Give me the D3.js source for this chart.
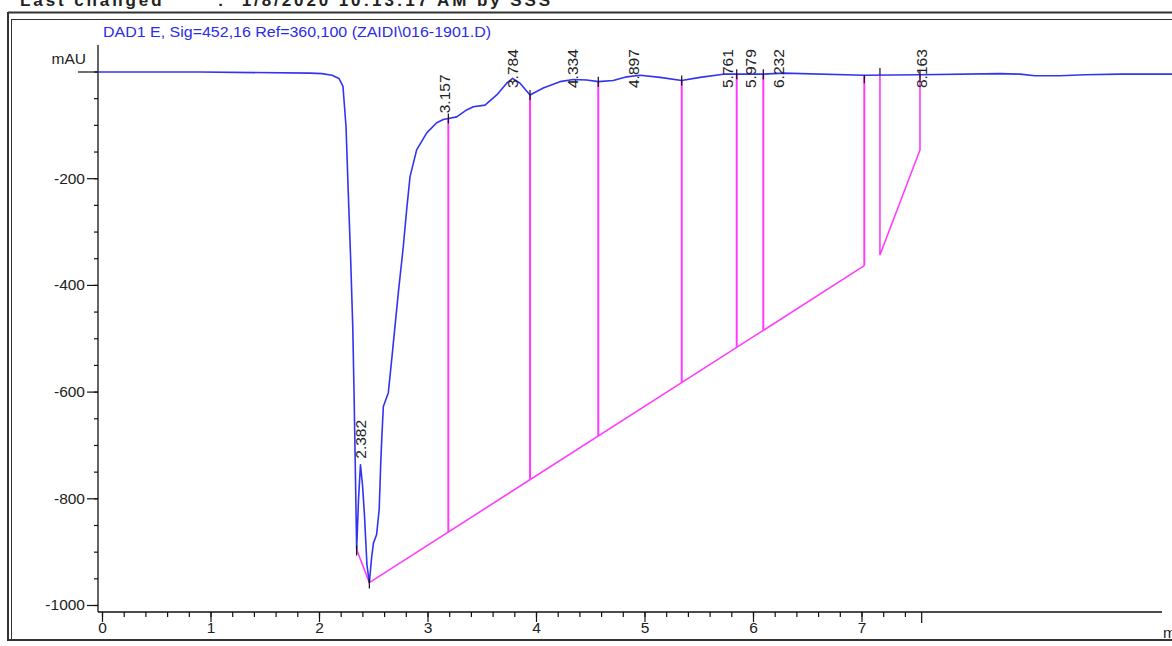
<!DOCTYPE html>
<html>
<head>
<meta charset="utf-8">
<script src="https://cdn.jsdelivr.net/npm/d3@7"></script>
<style>
  html, body { margin: 0; padding: 0; background: #fff; }
  svg { display: block; font-family: "Liberation Sans", Arial, sans-serif; }
</style>
</head>
<body>
<svg id="chart" width="1172" height="646"></svg>
<script>
// Detector trace: retention time (min) and absorbance (mAU)
const traceTime = [-0.037, 0.9, 1.917, 2.028, 2.12, 2.184, 2.221, 2.249, 2.27, 2.292, 2.311, 2.323, 2.335, 2.347,
  2.364, 2.382, 2.401, 2.419, 2.442, 2.464, 2.486, 2.502, 2.531, 2.555, 2.568, 2.578, 2.593, 2.639, 2.67, 2.731,
  2.777, 2.808, 2.839, 2.9, 2.993, 3.085, 3.146, 3.192, 3.269, 3.361, 3.422, 3.53, 3.638, 3.73, 3.784, 3.853,
  3.945, 4.067, 4.221, 4.344, 4.467, 4.574, 4.712, 4.836, 4.959, 5.143, 5.343, 5.512, 5.726, 6.095, 6.279, 7.023,
  7.539, 8.276, 8.461, 8.599, 8.829, 9.06, 9.382, 9.862];
const traceSignal = [-1, -1, -3, -4, -7, -13, -28, -103, -228, -353, -478, -602, -747, -896,
  -803, -737, -775, -831, -925, -958, -909, -884, -868, -820, -740, -690, -628, -602, -540, -415,
  -328, -259, -197, -147, -115, -96, -90, -88, -85, -72, -66, -63, -44, -22, -13, -22,
  -44, -31, -19, -15, -16, -19, -17, -10, -7, -11, -17, -11, -5, -5, -3, -7,
  -6, -4, -5, -8, -8, -6, -5, -5];

// Integrated peaks: label text and apex time
const peakLabels = ["2.382", "3.157", "3.784", "4.334", "4.897", "5.761", "5.979", "6.232", "8.163"];
const peakApexTime = [2.382, 3.157, 3.784, 4.334, 4.897, 5.761, 5.979, 6.232, 7.548];

// Baseline construction for the integration events
const baselineTime = [2.347, 2.464, 7.026];
const baselineSignal = [-896, -958, -364];
const dropTimes = [3.192, 3.945, 4.574, 5.343, 5.85, 6.095, 7.026];
const lastBaseTime = [7.17, 7.17, 7.539, 7.539];
const lastBaseSignal = [null, -344, -147, null];
const markerTimes = [3.192, 3.945, 4.574, 5.343, 5.85, 6.095, 7.539];

// Axis ticks
const xMajorTicks = [0, 1, 2, 3, 4, 5, 6, 7];
const xEndTick = 7.55;
const yMajorTicks = [-200, -400, -600, -800, -1000];

const svg = d3.select("#chart");
const x = d3.scaleLinear().domain([0, 7]).range([102, 861.5]);
const y = d3.scaleLinear().domain([0, -1000]).range([71.5, 605]);

const bis = d3.bisector(d => d).left;
function signalAt(t) {
  const i = Math.max(1, Math.min(traceTime.length - 1, bis(traceTime, t)));
  const t0 = traceTime[i - 1], t1 = traceTime[i];
  return traceSignal[i - 1] + (traceSignal[i] - traceSignal[i - 1]) * (t - t0) / (t1 - t0);
}
function baselineAt(t) {
  const t0 = baselineTime[1], t1 = baselineTime[2];
  return baselineSignal[1] + (baselineSignal[2] - baselineSignal[1]) * (t - t0) / (t1 - t0);
}
const plain = d => String(d);

// Report frame (page header runs off the top edge)
svg.append("text").attr("x", 20).attr("y", 6).attr("font-size", 17).attr("font-weight", "bold")
  .attr("fill", "#222").attr("xml:space", "preserve")
  .attr("textLength", 530).attr("lengthAdjust", "spacing")
  .text("Last changed       :  1/8/2020 10:13:17 AM by SSS");
const frame = svg.append("g").attr("stroke", "#333").attr("fill", "none");
frame.append("line").attr("x1", 8).attr("x2", 1172).attr("y1", 12.5).attr("y2", 12.5).attr("stroke-width", 2);
frame.append("line").attr("x1", 11).attr("x2", 1172).attr("y1", 19.5).attr("y2", 19.5).attr("stroke-width", 1);
frame.append("line").attr("x1", 8).attr("x2", 8).attr("y1", 12).attr("y2", 641).attr("stroke-width", 2);
frame.append("line").attr("x1", 11.5).attr("x2", 11.5).attr("y1", 19).attr("y2", 640).attr("stroke-width", 1);
frame.append("line").attr("x1", 8).attr("x2", 1172).attr("y1", 640).attr("y2", 640).attr("stroke-width", 2);

// Signal title
svg.append("text").attr("x", 103).attr("y", 37).attr("font-size", 14).attr("fill", "#2b2bea")
  .attr("textLength", 388).attr("lengthAdjust", "spacingAndGlyphs")
  .text("DAD1 E, Sig=452,16 Ref=360,100 (ZAIDI\\016-1901.D)");

// Y axis
const axisY = svg.append("g").attr("transform", "translate(98,0)");
axisY.append("line").attr("x1", 0).attr("x2", 0).attr("y1", 45).attr("y2", 612).attr("stroke", "#111").attr("stroke-width", 1.3);
axisY.append("g").call(d3.axisLeft(y).tickValues(d3.range(0, -1001, -50)).tickSize(4).tickFormat(""))
  .call(g => g.select(".domain").remove())
  .call(g => g.selectAll("line").attr("stroke", "#111").attr("stroke-width", 1.2));
axisY.append("g").call(d3.axisLeft(y).tickValues(yMajorTicks).tickSize(11).tickPadding(2).tickFormat(plain))
  .call(g => g.select(".domain").remove())
  .call(g => g.selectAll("line").attr("stroke", "#111").attr("stroke-width", 1.2))
  .call(g => g.selectAll("text").attr("font-size", 15.5).attr("fill", "#222")
    .attr("font-family", "'Liberation Sans', Arial, sans-serif"));
axisY.append("g").call(d3.axisLeft(y).tickValues([0]).tickSize(20).tickFormat(""))
  .call(g => g.select(".domain").remove())
  .call(g => g.selectAll("line").attr("stroke", "#111").attr("stroke-width", 1.2));
svg.append("text").attr("x", 86).attr("y", 64).attr("text-anchor", "end").attr("font-size", 15.5)
  .attr("fill", "#222").text("mAU");

// X axis
const axisX = svg.append("g").attr("transform", "translate(0,612)");
axisX.append("line").attr("x1", 98).attr("x2", 1162).attr("y1", 0).attr("y2", 0).attr("stroke", "#111").attr("stroke-width", 1.3);
axisX.append("g").call(d3.axisBottom(x).tickValues(d3.range(0, 7.41, 0.2)).tickSize(5).tickFormat(""))
  .call(g => g.select(".domain").remove())
  .call(g => g.selectAll("line").attr("stroke", "#111").attr("stroke-width", 1.2));
axisX.append("g").call(d3.axisBottom(x).tickValues(xMajorTicks).tickSize(10).tickPadding(0).tickFormat(plain))
  .call(g => g.select(".domain").remove())
  .call(g => g.selectAll("line").attr("stroke", "#111").attr("stroke-width", 1.2))
  .call(g => g.selectAll("text").attr("font-size", 15.5).attr("fill", "#222")
    .attr("font-family", "'Liberation Sans', Arial, sans-serif"));
axisX.append("g").call(d3.axisBottom(x).tickValues([xEndTick]).tickSize(11).tickFormat(""))
  .call(g => g.select(".domain").remove())
  .call(g => g.selectAll("line").attr("stroke", "#111").attr("stroke-width", 1.2));
svg.append("text").attr("x", 1163).attr("y", 638).attr("font-size", 15.5).attr("fill", "#222").text("min");

// Integration baselines and drop lines
const pink = "#ff3cff";
const baseLine = d3.line().x(d => x(d[0])).y(d => y(d[1]));
svg.append("path").datum(baselineTime.map((t, i) => [t, baselineSignal[i]]))
  .attr("d", baseLine).attr("fill", "none").attr("stroke", pink).attr("stroke-width", 1.6);
svg.append("g").selectAll("line").data(dropTimes).join("line")
  .attr("x1", d => x(d)).attr("x2", d => x(d))
  .attr("y1", d => y(signalAt(d))).attr("y2", d => y(baselineAt(d)))
  .attr("stroke", pink).attr("stroke-width", 2);
svg.append("path")
  .datum(lastBaseTime.map((t, i) => [t, lastBaseSignal[i] === null ? signalAt(t) : lastBaseSignal[i]]))
  .attr("d", baseLine).attr("fill", "none").attr("stroke", pink).attr("stroke-width", 1.6);

// Detector trace
svg.append("path").datum(traceTime.map((t, i) => [t, traceSignal[i]]))
  .attr("d", d3.line().x(d => x(d[0])).y(d => y(d[1])))
  .attr("fill", "none").attr("stroke", "#3434f0").attr("stroke-width", 1.6).attr("stroke-linejoin", "round");

// Peak start/end markers
const marks = svg.append("g").attr("stroke", "#111").attr("stroke-width", 1.2);
marks.selectAll("line.m").data(markerTimes).join("line").attr("class", "m")
  .attr("x1", d => x(d)).attr("x2", d => x(d))
  .attr("y1", d => y(signalAt(d)) - 5).attr("y2", d => y(signalAt(d)) + 5);
marks.selectAll("line.b").data(baselineTime.slice(0, 2)).join("line").attr("class", "b")
  .attr("x1", d => x(d)).attr("x2", d => x(d))
  .attr("y1", (d, i) => y(baselineSignal[i]) - 4).attr("y2", (d, i) => y(baselineSignal[i]) + 6);
marks.append("line").attr("x1", x(7.026)).attr("x2", x(7.026))
  .attr("y1", y(signalAt(7.026))).attr("y2", y(signalAt(7.026)) + 8);
marks.append("line").attr("x1", x(7.17)).attr("x2", x(7.17))
  .attr("y1", y(signalAt(7.17)) - 7).attr("y2", y(signalAt(7.17)));

// Retention time labels
svg.append("g").selectAll("text").data(peakApexTime).join("text")
  .attr("transform", d => `translate(${x(d)},${Math.max(y(signalAt(d)) - 6, 88)}) rotate(-90)`)
  .attr("dy", "0.36em").attr("font-size", 15.5).attr("fill", "#222")
  .text((d, i) => peakLabels[i]);
</script>
</body>
</html>
